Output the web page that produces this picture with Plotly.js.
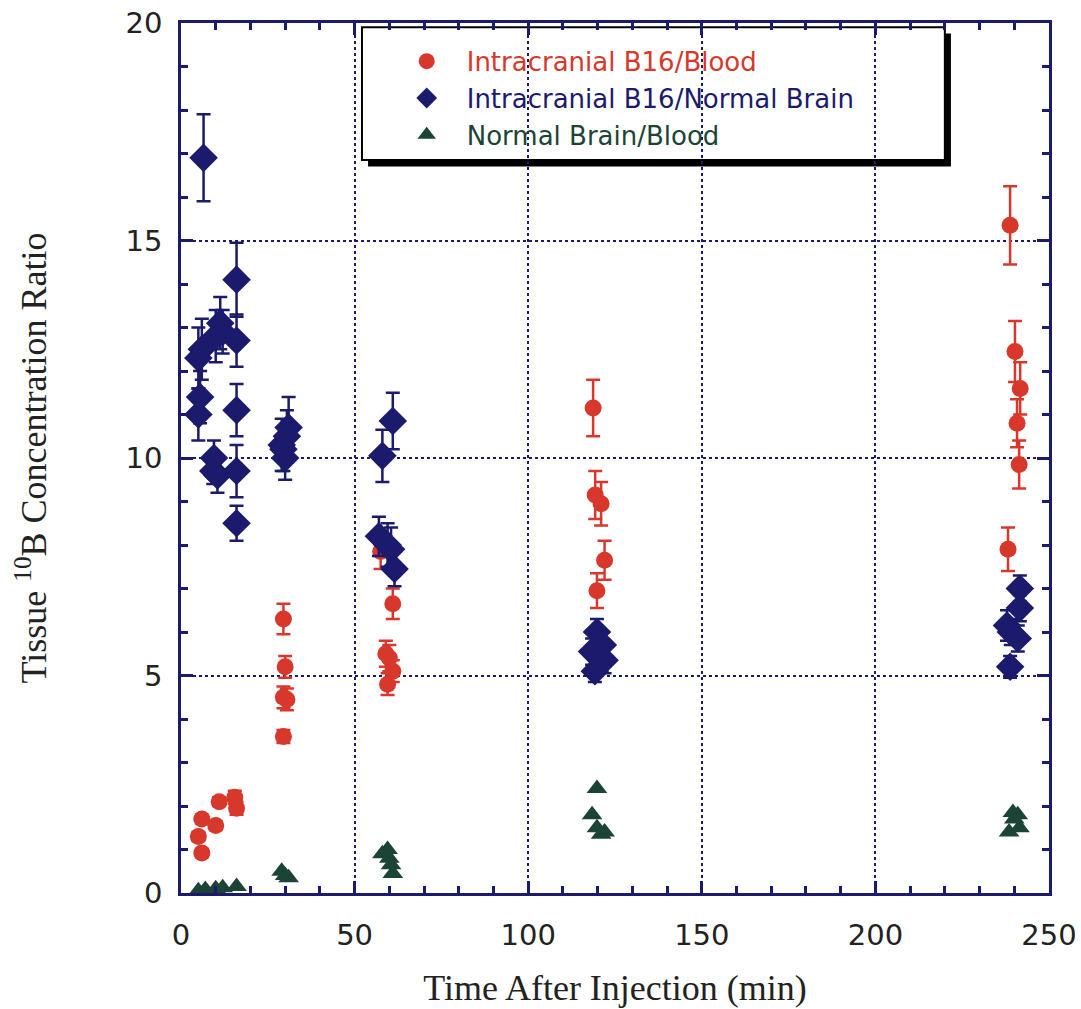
<!DOCTYPE html>
<html>
<head>
<meta charset="utf-8">
<script src="https://cdn.plot.ly/plotly-3.0.1.min.js"></script>
<style>html,body{margin:0;padding:0;background:#fff;}#chart{width:1081px;height:1009px;}</style>
</head>
<body>
<div id="chart"></div>
<script>
// Intracranial B16 / Blood
const bloodX = [5, 6, 6, 10, 11, 15.5, 16, 29.5, 30, 29.5, 30.5, 29.5, 57.5, 61, 59, 60, 61, 59.5, 118.7, 119.3, 121, 122, 119.8, 238.8, 240.2, 241.7, 240.8, 241.4, 238.2];
const bloodY = [1.3, 0.92, 1.7, 1.55, 2.1, 2.2, 1.95, 6.3, 5.2, 4.5, 4.45, 3.6, 7.85, 6.65, 5.5, 5.4, 5.1, 4.8, 11.15, 9.15, 8.95, 7.65, 6.95, 15.35, 12.45, 11.6, 10.8, 9.85, 7.9];
const bloodErr = [0.1, 0.1, 0.1, 0.1, 0.1, 0.15, 0.15, 0.35, 0.25, 0.25, 0.25, 0.15, 0.4, 0.35, 0.3, 0.3, 0.25, 0.25, 0.65, 0.55, 0.5, 0.45, 0.4, 0.9, 0.7, 0.6, 0.55, 0.55, 0.5];

// Intracranial B16 / Normal Brain
const brainX = [6.5, 5, 6, 5.5, 5, 10, 11.3, 12, 9.5, 9.3, 10.5, 16, 16, 16, 16, 16, 29, 30, 30.5, 31, 29.5, 57, 59.5, 60.5, 61.5, 58, 61, 119.8, 121.5, 118.4, 122, 119.2, 241.6, 241.6, 237.9, 241, 239, 238.8];
const brainY = [16.9, 12.3, 12.5, 11.4, 11.0, 12.8, 13.1, 12.9, 10.0, 9.7, 9.6, 14.1, 12.7, 11.1, 9.7, 8.5, 10.3, 10.0, 10.5, 10.7, 10.2, 8.2, 8.0, 7.9, 7.45, 10.05, 10.85, 6.0, 5.7, 5.55, 5.35, 5.1, 7.0, 6.55, 6.15, 5.85, 6.0, 5.2];
const brainErr = [1.0, 0.7, 0.7, 0.6, 0.6, 0.6, 0.6, 0.5, 0.4, 0.3, 0.4, 0.85, 0.6, 0.6, 0.6, 0.4, 0.6, 0.5, 0.6, 0.7, 0.5, 0.45, 0.5, 0.5, 0.4, 0.6, 0.65, 0.3, 0.3, 0.3, 0.3, 0.25, 0.3, 0.3, 0.35, 0.3, 0.3, 0.25];

// Normal Brain / Blood
const nbX = [5, 7, 10, 12, 16, 29, 30, 31, 58, 59.5, 60, 60.5, 61, 119.8, 118.4, 119.8, 121, 122, 238.5, 239.6, 241, 241.5, 240];
const nbY = [0.05, 0.08, 0.1, 0.12, 0.15, 0.5, 0.4, 0.35, 0.9, 1.0, 0.8, 0.65, 0.45, 2.4, 1.8, 1.5, 1.35, 1.4, 1.4, 1.85, 1.8, 1.5, 1.7];

const xTicks = [0, 50, 100, 150, 200, 250];
const yTicks = [0, 5, 10, 15, 20];
const names = ['Intracranial B16/Blood', 'Intracranial B16/Normal Brain', 'Normal Brain/Blood'];

const RED = '#d8372c', NAVY = '#1b1a6c', GREEN = '#1c4436';

const traces = [
  {x: bloodX, y: bloodY, type: 'scatter', mode: 'markers',
   name: '<span style="color:' + RED + '">' + names[0] + '</span>',
   marker: {symbol: 'circle', size: 17, color: RED},
   error_y: {type: 'data', array: bloodErr, visible: true, color: RED, thickness: 2.5, width: 7},
   cliponaxis: false},
  {x: brainX, y: brainY, type: 'scatter', mode: 'markers',
   name: '<span style="color:' + NAVY + '">' + names[1] + '</span>',
   marker: {symbol: 'diamond', size: 22, color: NAVY},
   error_y: {type: 'data', array: brainErr, visible: true, color: NAVY, thickness: 2.5, width: 7},
   cliponaxis: false},
  {x: nbX, y: nbY, type: 'scatter', mode: 'markers',
   name: '<span style="color:' + GREEN + '">' + names[2] + '</span>',
   marker: {symbol: 'triangle-up', size: 18, color: GREEN},
   cliponaxis: false}
];

const axisCommon = {
  showline: true, linecolor: NAVY, linewidth: 2.5, mirror: 'allticks',
  ticks: 'inside', ticklen: 12, tickwidth: 2.5, tickcolor: NAVY,
  showgrid: true, gridcolor: NAVY, gridwidth: 2, griddash: 'dot',
  zeroline: false,
  tickfont: {family: 'DejaVu Sans', size: 29, color: '#222'}
};

const layout = {
  width: 1081, height: 1009,
  margin: {l: 181, r: 32, t: 23, b: 116},
  paper_bgcolor: '#fff', plot_bgcolor: '#fff',
  showlegend: true,
  legend: {x: 0.237, y: 0.983, xanchor: 'left', yanchor: 'top',
           bgcolor: 'rgba(0,0,0,0)', borderwidth: 0,
           font: {family: 'DejaVu Sans', size: 26}, itemwidth: 70},
  xaxis: Object.assign({}, axisCommon, {
    range: [0, 250], tickvals: xTicks, ticktext: xTicks.map(String),
    minor: {ticks: 'inside', dtick: 10, ticklen: 7, tickwidth: 2.5, tickcolor: NAVY, showgrid: false},
    ticklabelstandoff: 14,
    title: {text: 'Time After Injection (min)', font: {family: 'Liberation Serif', size: 36, color: '#222'}, standoff: 25}
  }),
  yaxis: Object.assign({}, axisCommon, {
    range: [0, 20], tickvals: yTicks, ticktext: yTicks.map(String),
    minor: {ticks: 'inside', dtick: 1, ticklen: 7, tickwidth: 2.5, tickcolor: NAVY, showgrid: false},
    ticklabelstandoff: 10,
    title: {text: 'Tissue <sup>10</sup>B Concentration Ratio', font: {family: 'Liberation Serif', size: 36, color: '#222'}, standoff: 68}
  }),
  shapes: [
    {type: 'rect', xref: 'paper', yref: 'paper', layer: 'between',
     x0: 0.2155, x1: 0.887, y0: 0.835, y1: 0.988, fillcolor: '#000', line: {width: 0}},
    {type: 'rect', xref: 'paper', yref: 'paper', layer: 'between',
     x0: 0.2085, x1: 0.880, y0: 0.8425, y1: 0.995, fillcolor: '#fff', line: {color: '#000', width: 2}}
  ]
};

Plotly.newPlot('chart', traces, layout, {displayModeBar: false});
</script>
</body>
</html>
